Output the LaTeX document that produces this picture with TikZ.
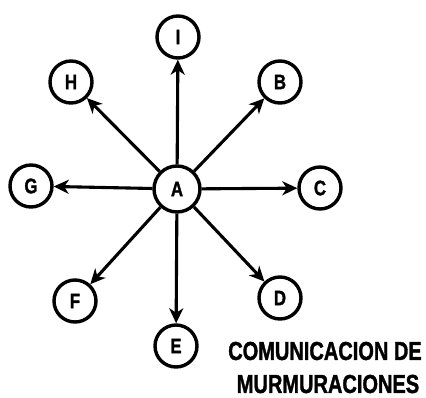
\documentclass[tikz,border=0pt]{standalone}
\usepackage{fontspec}
\setmainfont{Liberation Sans}
\newfontfamily\heavy[BoldFeatures={FakeBold=1.6}]{Liberation Sans}
\usetikzlibrary{arrows.meta}
\newcommand{\tag}[1]{\scalebox{0.8}[1]{#1}}
\begin{document}
\begin{tikzpicture}[x=1pt,y=-1pt,
  person/.style={circle, draw, line width=3.4pt, minimum size=42pt, inner sep=0pt,
                 font=\heavy\fontsize{21}{21}\selectfont\bfseries},
  hub/.style={person, minimum size=46pt},
  rumor/.style={line width=3.1pt, -{Stealth[length=15pt,width=14pt,inset=4.5pt]}},
  caption/.style={font=\heavy\fontsize{26}{26}\selectfont\bfseries, inner sep=0pt, xscale=0.77}]
  \useasboundingbox (0,0) rectangle (426,397);
  % central node and its listeners
  \node[hub]    (A) at (177,189) {\tag{A}};
  \node[person] (I) at (178,37)  {\tag{I}};
  \node[person] (H) at (71,82)   {\tag{H}};
  \node[person] (B) at (280,82)  {\tag{B}};
  \node[person] (G) at (31,186)  {\tag{G}};
  \node[person] (C) at (320,188) {\tag{C}};
  \node[person] (F) at (75,301)  {\tag{F}};
  \node[person] (D) at (280,298) {\tag{D}};
  \node[person] (E) at (176,346) {\tag{E}};
  % the rumour spreads outwards from A
  \foreach \t in {I,B,C,D,E,F,G,H}
    \draw[rumor] (A) -- (\t);
  % caption
  \node[caption] (cap1) at (325,351) {COMUNICACION DE};
  \node[caption] (cap2) at (328,384) {MURMURACIONES};
\end{tikzpicture}
\end{document}
